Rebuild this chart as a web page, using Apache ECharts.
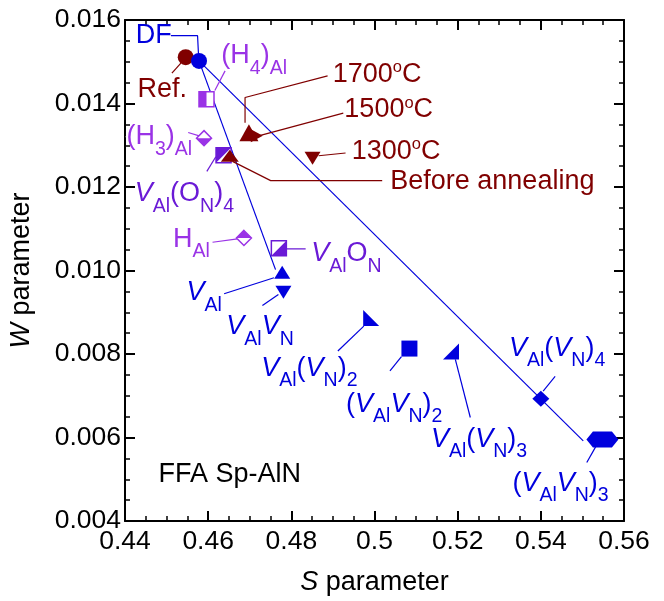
<!DOCTYPE html>
<html><head><meta charset="utf-8">
<script src="https://cdn.jsdelivr.net/npm/echarts@6/dist/echarts.min.js"></script>
<style>html,body{margin:0;padding:0;background:#fff}#c{width:664px;height:601px}</style>
</head><body><div id="c"></div>
<script>
// ---------------- data ----------------
const defects = ['Ref.','DF','(H4)Al','(H3)Al','VAl(ON)4','Before annealing','1700oC','1500oC','1300oC',
  'HAl','VAlON','VAl','VAlVN','VAl(VN)2','(VAlVN)2','VAl(VN)3','VAl(VN)4','(VAlVN)3'];
const sValues = [0.4546,0.4578,0.4596,0.4590,0.4637,0.4652,0.4698,0.4717,0.4851,
  0.4686,0.4770,0.4778,0.4781,0.4992,0.5084,0.5184,0.5400,0.5548];
const wValues = [0.01511,0.01502,0.01410,0.01317,0.01276,0.01275,0.01330,0.01323,0.01269,
  0.01078,0.01053,0.00996,0.00948,0.00886,0.00813,0.00806,0.00693,0.00595];
const xTickLabels = ['0.44','0.46','0.48','0.5','0.52','0.54','0.56'];
const yTickLabels = ['0.004','0.006','0.008','0.010','0.012','0.014','0.016'];
// guide lines from DF (S, W end points)
const guideDFtoVAl = [[0.4578,0.01502],[0.4762,0.01002]];
const guideDFtoVAlVN3 = [[0.4578,0.01502],[0.5502,0.00592]];

// ---------------- styles ----------------
const FONT = '"Liberation Sans", Arial, Helvetica, sans-serif';
const BLUE = '#0000dd', RED = '#800000', PURPLE = '#9a33e6', VIOLET = '#6a1ad6';
const X = {min:0.44, max:0.56, interval:0.02};
const Y = {min:0.004, max:0.016, interval:0.002};

const P = {
  hex: 'path://M0,8 L6.5,0 L25.5,0 L32,8 L25.5,16 L6.5,16 Z',
  down: 'path://M0,0 L10,0 L5,10 Z',
  right: 'path://M0,0 L10,5 L0,10 Z',
  ll: 'path://M0,0 L0,10 L10,10 Z',
  lr: 'path://M10,0 L10,10 L0,10 Z',
  ul: 'path://M0,0 L10,0 L0,10 Z',
  topHalfDiamond: 'path://M0,10 L10,0 L20,10 Z',
  botHalfDiamond: 'path://M0,0 L20,0 L10,10 Z'
};
const markerStyle = {
  'Ref.': [{symbol:'circle', size:16, fill:RED}],
  'DF': [{symbol:'circle', size:16, fill:BLUE}],
  '(H4)Al': [{symbol:'rect', size:15, fill:'#fff', stroke:PURPLE, bw:1.5},
             {symbol:'rect', size:[7.5,15], fill:PURPLE, offset:[-3.75,0]}],
  '(H3)Al': [{symbol:'diamond', size:15, fill:'#fff', stroke:PURPLE, bw:1.5},
             {symbol:P.botHalfDiamond, size:[15,7.5], fill:PURPLE, offset:[0,3.75]}],
  'VAl(ON)4': [{symbol:'rect', size:15, fill:'#fff', stroke:VIOLET, bw:1.5},
               {symbol:P.ul, size:15, fill:VIOLET}],
  'Before annealing': [{symbol:'triangle', size:[18,12], fill:RED}],
  '1700oC': [{symbol:'triangle', size:[19,17], fill:RED}],
  '1500oC': [{symbol:P.right, size:[12,13], fill:RED}],
  '1300oC': [{symbol:P.down, size:[16,13], fill:RED}],
  'HAl': [{symbol:'diamond', size:15, fill:'#fff', stroke:PURPLE, bw:1.5},
          {symbol:P.topHalfDiamond, size:[15,7.5], fill:PURPLE, offset:[0,-3.75]}],
  'VAlON': [{symbol:'rect', size:15, fill:'#fff', stroke:VIOLET, bw:1.5},
            {symbol:P.lr, size:15, fill:VIOLET}],
  'VAl': [{symbol:'triangle', size:[16,13], fill:BLUE}],
  'VAlVN': [{symbol:P.down, size:[16,13], fill:BLUE}],
  'VAl(VN)2': [{symbol:P.ll, size:16, fill:BLUE}],
  '(VAlVN)2': [{symbol:'rect', size:16, fill:BLUE}],
  'VAl(VN)3': [{symbol:P.lr, size:16, fill:BLUE}],
  'VAl(VN)4': [{symbol:'diamond', size:[17,16], fill:BLUE}],
  '(VAlVN)3': [{symbol:P.hex, size:[32,16], fill:BLUE}]
};

// annotation texts, anchored at left / vertical middle (data units)
const annotations = [
  {t:'{m|DF}', c:BLUE, at:[0.44247,0.015618]},
  {t:'{m|Ref.}', c:RED, at:[0.44288,0.014343]},
  {t:'{m|(H}{s|4}{m|)}{s|Al}', c:PURPLE, at:[0.46304,0.01514]},
  {t:'{n|1700}{p|o}{n|C}', c:RED, at:[0.48985,0.014705]},
  {t:'{n|1500}{p|o}{n|C}', c:RED, at:[0.49263,0.013856]},
  {t:'{n|1300}{p|o}{n|C}', c:RED, at:[0.49441,0.012852]},
  {t:'{n|Before annealing}', c:RED, at:[0.50367,0.012123]},
  {t:'{m|(H}{s|3}{m|)}{s|Al}', c:PURPLE, at:[0.44024,0.013203]},
  {t:'{i|V}{s|Al}{m|(O}{s|N}{m|)}{s|4}', c:VIOLET, at:[0.44223,0.011841]},
  {t:'{m|H}{s|Al}', c:PURPLE, at:[0.45145,0.010741]},
  {t:'{i|V}{s|Al}{m|O}{s|N}', c:VIOLET, at:[0.48464,0.010402]},
  {t:'{i|V}{s|Al}', c:BLUE, at:[0.45464,0.009467]},
  {t:'{i|V}{s|Al}{i|V}{s|N}', c:BLUE, at:[0.46424,0.008649]},
  {t:'{i|V}{s|Al}{m|(}{i|V}{s|N}{m|)}{s|2}', c:BLUE, at:[0.47264,0.007657]},
  {t:'{m|(}{i|V}{s|Al}{i|V}{s|N}{m|)}{s|2}', c:BLUE, at:[0.49304,0.006797]},
  {t:'{i|V}{s|Al}{m|(}{i|V}{s|N}{m|)}{s|3}', c:BLUE, at:[0.51344,0.00596]},
  {t:'{i|V}{s|Al}{m|(}{i|V}{s|N}{m|)}{s|4}', c:BLUE, at:[0.53223,0.008131]},
  {t:'{m|(}{i|V}{s|Al}{i|V}{s|N}{m|)}{s|3}', c:BLUE, at:[0.53305,0.004904]},
  {t:'{n|FFA Sp-AlN}', c:'#000', at:[0.44792,0.005124]}
];
// callout leader lines (data units)
const leaders = [
  {c:BLUE, pts:[[0.45104,0.015625],[0.45745,0.015625],[0.45769,0.01514]]},
  {c:RED, pts:[[0.45128,0.014726],[0.45344,0.014965]]},
  {c:PURPLE, pts:[[0.4616,0.01431],[0.46407,0.014781]]},
  {c:RED, pts:[[0.46887,0.013538],[0.46887,0.014143],[0.48872,0.014661]]},
  {c:RED, pts:[[0.47168,0.013211],[0.49249,0.01377]]},
  {c:RED, pts:[[0.48656,0.012749],[0.49304,0.012814]]},
  {c:RED, pts:[[0.46585,0.012613],[0.47504,0.012152],[0.50185,0.012152]]},
  {c:PURPLE, pts:[[0.45519,0.013306],[0.45824,0.013211]]},
  {c:VIOLET, pts:[[0.45968,0.012374],[0.46184,0.012725]]},
  {c:PURPLE, pts:[[0.46105,0.010677],[0.46705,0.010758]]},
  {c:VIOLET, pts:[[0.47888,0.010519],[0.48344,0.010519]]},
  {c:BLUE, pts:[[0.46383,0.009443],[0.47583,0.009826]]},
  {c:BLUE, pts:[[0.47305,0.009163],[0.47689,0.009426]]},
  {c:BLUE, pts:[[0.49119,0.008071],[0.49743,0.008669]]},
  {c:BLUE, pts:[[0.50372,0.007598],[0.50648,0.007937]]},
  {c:BLUE, pts:[[0.51944,0.007873],[0.52304,0.006479]]},
  {c:BLUE, pts:[[0.54056,0.007108],[0.54344,0.007466]]},
  {c:BLUE, pts:[[0.55328,0.005793],[0.55105,0.005403]]}
];

function richFor(color){
  const base = {fontFamily:FONT, color:color, textBorderWidth:0, textBorderColor:'transparent', opacity:1};
  return {
    m:Object.assign({fontSize:27, lineHeight:45}, base),
    i:Object.assign({fontSize:27, lineHeight:45, fontStyle:'italic'}, base),
    s:Object.assign({fontSize:19.5, lineHeight:19, verticalAlign:'bottom'}, base),
    n:Object.assign({fontSize:27, lineHeight:30}, base),
    p:Object.assign({fontSize:16.5, lineHeight:16, verticalAlign:'top'}, base)
  };
}

// ---------------- series ----------------
const series = [];
[guideDFtoVAl, guideDFtoVAlVN3].forEach(g => series.push({
  type:'line', data:g, symbol:'none', silent:true, z:2,
  lineStyle:{color:BLUE, width:1.2}
}));
leaders.forEach(l => series.push({
  type:'line', data:l.pts, symbol:'none', silent:true, z:2,
  lineStyle:{color:l.c, width:1.2}
}));
defects.forEach((n,i) => {
  (markerStyle[n]||[]).forEach(layer => series.push({
    type:'scatter', name:n, data:[[sValues[i], wValues[i]]], silent:true, z:5,
    symbol:layer.symbol, symbolSize:layer.size, symbolOffset:layer.offset||[0,0],
    itemStyle:{color:layer.fill, borderColor:layer.stroke||layer.fill, borderWidth:layer.bw||0, opacity:1}
  }));
});
series.push({
  type:'scatter', silent:true, z:6, symbolSize:1,
  itemStyle:{color:'#fff', opacity:1},
  data: annotations.map(a => ({
    value:a.at,
    label:{show:true, position:'right', distance:0, align:'left', verticalAlign:'middle',
      color:a.c, textBorderWidth:0, textBorderColor:'transparent', opacity:1,
      formatter:a.t, rich:richFor(a.c)}
  }))
});

const axisBase = {
  type:'value',
  axisLine:{show:true, onZero:false, lineStyle:{color:'#000', width:2}},
  axisTick:{show:true, inside:true, length:10, lineStyle:{color:'#000', width:2}},
  minorTick:{show:true, splitNumber:4, length:5, lineStyle:{color:'#000', width:1.5}},
  splitLine:{show:false}, minorSplitLine:{show:false}
};
const xLab = v => { const k = Math.round((v - X.min)/X.interval); return xTickLabels[k] ?? ''; };
const yLab = v => { const k = Math.round((v - Y.min)/Y.interval); return yTickLabels[k] ?? ''; };

const option = {
  animation:false,
  backgroundColor:'#fff',
  grid:{left:124, top:20, right:40, bottom:79, containLabel:false},
  xAxis:[
    Object.assign({}, axisBase, {min:X.min, max:X.max, interval:X.interval, position:'bottom',
      axisLabel:{show:true, formatter:xLab, fontFamily:FONT, fontSize:26.5, color:'#000', margin:7},
      name:'{i|S}{n| parameter}', nameLocation:'middle', nameGap:48,
      nameTextStyle:{rich:{
        i:{fontFamily:FONT, fontSize:27, fontStyle:'italic', color:'#000'},
        n:{fontFamily:FONT, fontSize:27, color:'#000'}}}}),
    Object.assign({}, axisBase, {min:X.min, max:X.max, interval:X.interval, position:'top',
      axisLabel:{show:false}})
  ],
  yAxis:[
    Object.assign({}, axisBase, {min:Y.min, max:Y.max, interval:Y.interval, position:'left',
      axisLabel:{show:true, formatter:yLab, fontFamily:FONT, fontSize:26.5, color:'#000', margin:4},
      name:'{i|W}{n| parameter}', nameLocation:'middle', nameGap:90,
      nameTextStyle:{rich:{
        i:{fontFamily:FONT, fontSize:27, fontStyle:'italic', color:'#000'},
        n:{fontFamily:FONT, fontSize:27, color:'#000'}}}}),
    Object.assign({}, axisBase, {min:Y.min, max:Y.max, interval:Y.interval, position:'right',
      axisLabel:{show:false}})
  ],
  series: series
};
const chart = echarts.init(document.getElementById('c'));
chart.setOption(option);
</script>
</body></html>
